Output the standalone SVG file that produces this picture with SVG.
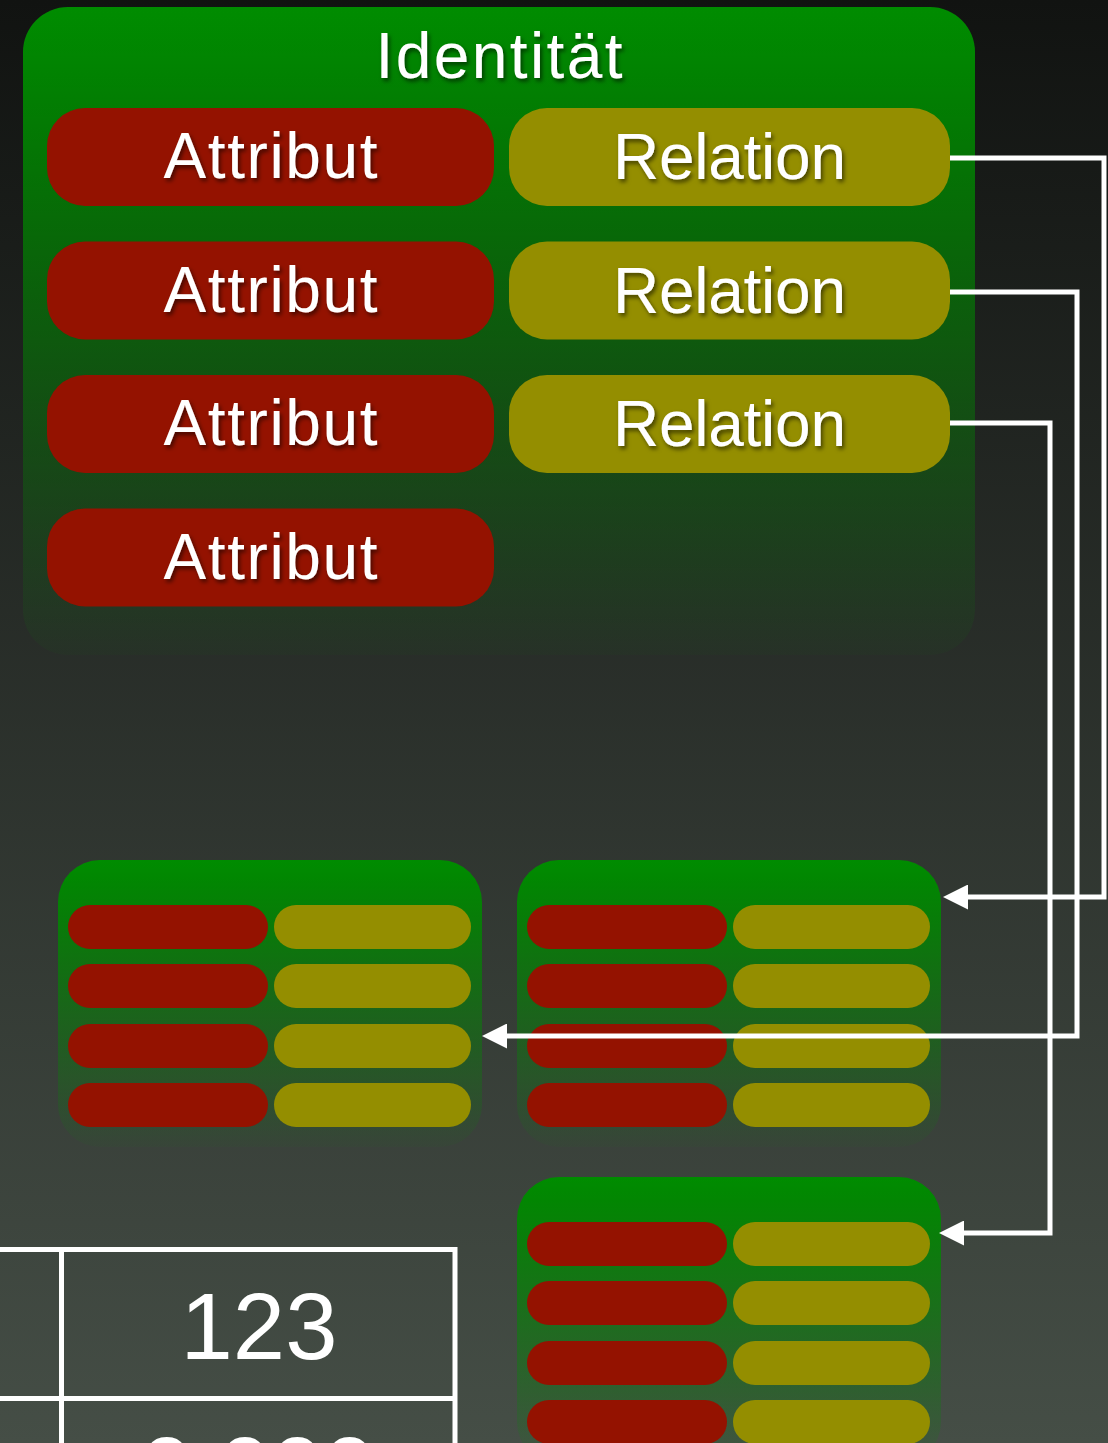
<svg xmlns="http://www.w3.org/2000/svg" width="1108" height="1443" viewBox="0 0 1108 1443">
  <defs>
    <linearGradient id="bg" x1="0" y1="0" x2="0" y2="1">
      <stop offset="0" stop-color="#111311"/>
      <stop offset="1" stop-color="#454e46"/>
    </linearGradient>
    <linearGradient id="boxg" x1="0" y1="0" x2="0" y2="1">
      <stop offset="0" stop-color="#008c00" stop-opacity="1"/>
      <stop offset="0.08" stop-color="#008800" stop-opacity="0.97"/>
      <stop offset="1" stop-color="#008c00" stop-opacity="0.04"/>
    </linearGradient>
    <filter id="ts" x="-10%" y="-20%" width="130%" height="160%">
      <feDropShadow dx="2" dy="3" stdDeviation="2" flood-color="#000" flood-opacity="0.55"/>
    </filter>
    <marker id="arr" viewBox="0 0 25 25" refX="0" refY="12.5" markerWidth="25" markerHeight="25" markerUnits="userSpaceOnUse" orient="auto">
      <path d="M0,0 L25,12.5 L0,25 z" fill="#ffffff"/>
    </marker>
  </defs>
  <style>
    .box { fill: url(#boxg); }
    .attr { fill: #941200; }
    .rel { fill: #948e00; }
    .lbl { font-family: "Liberation Sans", Arial, sans-serif; font-size: 64px; fill: #ffffff; text-anchor: middle; filter: url(#ts); }
    .conn { fill: none; stroke: #ffffff; stroke-width: 5; stroke-linejoin: miter; }
    .tbl { fill: none; stroke: #ffffff; stroke-width: 5; }
    .num { font-family: "Liberation Sans", Arial, sans-serif; font-size: 94px; fill: #ffffff; text-anchor: middle; }
  </style>

  <rect x="0" y="0" width="1108" height="1443" fill="url(#bg)"/>

  <g id="identitaet">
    <rect class="box" x="23" y="7" width="952" height="648" rx="45" ry="45"/>
    <text class="lbl" x="499" y="78" textLength="247">Identität</text>
    <g id="attr1"><rect class="attr" x="47" y="108" width="447" height="98" rx="38" ry="38"/><text class="lbl" x="270.5" y="178" textLength="214">Attribut</text></g>
    <g id="attr2"><rect class="attr" x="47" y="241.5" width="447" height="98" rx="38" ry="38"/><text class="lbl" x="270.5" y="311.5" textLength="214">Attribut</text></g>
    <g id="attr3"><rect class="attr" x="47" y="375" width="447" height="98" rx="38" ry="38"/><text class="lbl" x="270.5" y="445" textLength="214">Attribut</text></g>
    <g id="attr4"><rect class="attr" x="47" y="508.5" width="447" height="98" rx="38" ry="38"/><text class="lbl" x="270.5" y="578.5" textLength="214">Attribut</text></g>
    <g id="rel1"><rect class="rel" x="509" y="108" width="441" height="98" rx="38" ry="38"/><text class="lbl" x="729.5" y="179" textLength="233">Relation</text></g>
    <g id="rel2"><rect class="rel" x="509" y="241.5" width="441" height="98" rx="38" ry="38"/><text class="lbl" x="729.5" y="312.5" textLength="233">Relation</text></g>
    <g id="rel3"><rect class="rel" x="509" y="375" width="441" height="98" rx="38" ry="38"/><text class="lbl" x="729.5" y="446" textLength="233">Relation</text></g>
  </g>

  <g id="entityA">
    <rect class="box" x="58" y="860" width="424" height="287" rx="42" ry="42"/>
    <rect class="attr" x="68" y="905" width="200" height="44" rx="22"/>
    <rect class="attr" x="68" y="964" width="200" height="44" rx="22"/>
    <rect class="attr" x="68" y="1024" width="200" height="44" rx="22"/>
    <rect class="attr" x="68" y="1083" width="200" height="44" rx="22"/>
    <rect class="rel" x="274" y="905" width="197" height="44" rx="22"/>
    <rect class="rel" x="274" y="964" width="197" height="44" rx="22"/>
    <rect class="rel" x="274" y="1024" width="197" height="44" rx="22"/>
    <rect class="rel" x="274" y="1083" width="197" height="44" rx="22"/>
  </g>

  <g id="entityB">
    <rect class="box" x="517" y="860" width="424" height="287" rx="42" ry="42"/>
    <rect class="attr" x="527" y="905" width="200" height="44" rx="22"/>
    <rect class="attr" x="527" y="964" width="200" height="44" rx="22"/>
    <rect class="attr" x="527" y="1024" width="200" height="44" rx="22"/>
    <rect class="attr" x="527" y="1083" width="200" height="44" rx="22"/>
    <rect class="rel" x="733" y="905" width="197" height="44" rx="22"/>
    <rect class="rel" x="733" y="964" width="197" height="44" rx="22"/>
    <rect class="rel" x="733" y="1024" width="197" height="44" rx="22"/>
    <rect class="rel" x="733" y="1083" width="197" height="44" rx="22"/>
  </g>

  <g id="entityC">
    <rect class="box" x="517" y="1177" width="424" height="287" rx="42" ry="42"/>
    <rect class="attr" x="527" y="1222" width="200" height="44" rx="22"/>
    <rect class="attr" x="527" y="1281" width="200" height="44" rx="22"/>
    <rect class="attr" x="527" y="1341" width="200" height="44" rx="22"/>
    <rect class="attr" x="527" y="1400" width="200" height="44" rx="22"/>
    <rect class="rel" x="733" y="1222" width="197" height="44" rx="22"/>
    <rect class="rel" x="733" y="1281" width="197" height="44" rx="22"/>
    <rect class="rel" x="733" y="1341" width="197" height="44" rx="22"/>
    <rect class="rel" x="733" y="1400" width="197" height="44" rx="22"/>
  </g>

  <g id="table">
    <path class="tbl" d="M0,1249.5 H457.5 M0,1398.5 H457.5 M61.5,1249.5 V1443 M455,1249.5 V1443"/>
    <text class="num" x="259" y="1359">123</text>
    <text class="num" x="258" y="1503">0,000</text>
  </g>

  <g id="connectors">
    <path class="conn" d="M950,158 H1104 V897 H968" marker-end="url(#arr)"/>
    <path class="conn" d="M950,292 H1077 V1036 H507" marker-end="url(#arr)"/>
    <path class="conn" d="M950,423 H1050 V1233 H964" marker-end="url(#arr)"/>
  </g>
</svg>
